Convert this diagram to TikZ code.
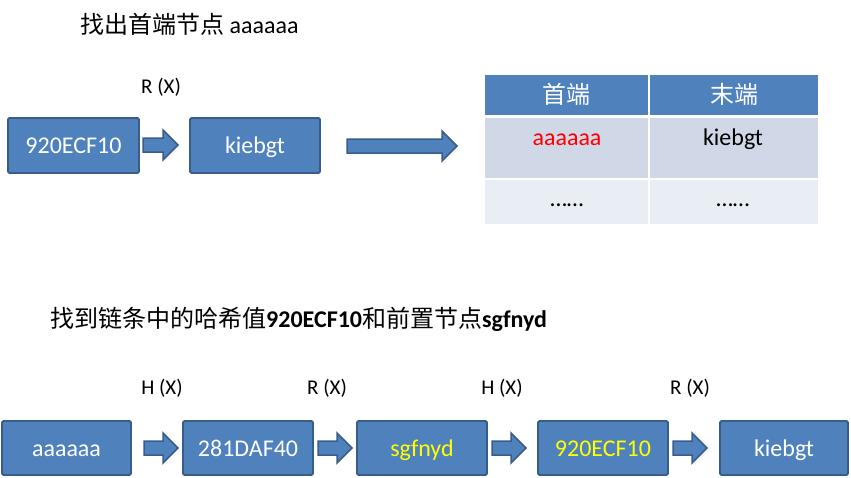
\documentclass[tikz,border=0pt]{standalone}
\usepackage{fontspec}
\setmainfont{Carlito}
\newfontfamily\cjk{Noto Sans CJK SC}
\definecolor{boxfill}{HTML}{4F81BD}
\definecolor{boxline}{HTML}{385D8A}
\definecolor{rowa}{HTML}{D0D8E8}
\definecolor{rowb}{HTML}{E9EDF4}
\definecolor{ylw}{HTML}{FFFF00}
\tikzset{
  blk/.style={draw=boxline, line width=1.8pt, fill=boxfill, rounded corners=1.5pt},
  boxtxt/.style={font=\fontsize{24}{28}\selectfont, text=white, anchor=base, inner sep=0pt},
  lbl/.style={font=\fontsize{21}{25}\selectfont, text=black, anchor=base, inner sep=0pt},
  ttl/.style={font=\fontsize{24}{28}\selectfont, anchor=base west, inner sep=0pt},
  arr/.style={draw=boxline, line width=1.5pt, fill=boxfill, line join=miter},
  celltxt/.style={font=\fontsize{24}{28}\selectfont, anchor=base, inner sep=0pt},
}
\newcommand{\barrow}[3]{%
  \draw[arr] (#1,#3-7) -- (#2-15,#3-7) -- (#2-15,#3-15) -- (#2,#3) -- (#2-15,#3+15) -- (#2-15,#3+7) -- (#1,#3+7) -- cycle;}
\begin{document}
\begin{tikzpicture}[x=1pt,y=-1pt]
\useasboundingbox (0,0) rectangle (851,477);
% ---------- top ----------
\node[ttl] (t1) at (80,33) {{\cjk 找出首端节点} aaaaaa};
\draw[blk] (8,118) rectangle (139,173);
\node[boxtxt] (a1) at (73.5,153) {920ECF10};
\draw[blk] (190,118) rectangle (320,173);
\node[boxtxt] (a2) at (255,153) {kiebgt};
\barrow{143}{178}{145}
\node[lbl] (r1) at (161,93) {R (X)};
\barrow{347}{457}{146}
% table
\fill[boxfill] (485,75) rectangle (818,115);
\fill[rowa] (485,118) rectangle (818,178);
\fill[rowb] (485,179.5) rectangle (818,224);
\draw[white, line width=2pt] (649,75) -- (649,224);
\node[celltxt, text=white] (h1) at (566.5,103) {\cjk 首端};
\node[celltxt, text=white] (h2) at (734,103) {\cjk 末端};
\node[celltxt, text=red] (c1) at (567,145) {aaaaaa};
\node[celltxt, text=black] (c2) at (733,145) {kiebgt};
\node[celltxt, text=black] (d1) at (567,206) {……};
\node[celltxt, text=black] (d2) at (733,206) {……};
% ---------- bottom ----------
\node[ttl] (t2) at (50,327) {{\cjk 找到链条中的哈希值}\textbf{920ECF10}{\cjk 和前置节点}\textbf{sgfnyd}};
\draw[blk] (2,421) rectangle (131,475);
\node[boxtxt] (b1) at (66.5,456) {aaaaaa};
\draw[blk] (183,421) rectangle (313,475);
\node[boxtxt] (b2) at (248,456) {281DAF40};
\draw[blk] (357,421) rectangle (487,475);
\node[boxtxt, text=ylw] (b3) at (422,456) {sgfnyd};
\draw[blk] (538,421) rectangle (668,475);
\node[boxtxt, text=ylw] (b4) at (603,456) {920ECF10};
\draw[blk] (720,421) rectangle (848,475);
\node[boxtxt] (b5) at (784,456) {kiebgt};
\barrow{144}{178}{448}
\barrow{318}{352}{448}
\barrow{492}{526}{448}
\barrow{673}{707}{448}
\node[lbl] (l1) at (162,394) {H (X)};
\node[lbl] (l2) at (327,394) {R (X)};
\node[lbl] (l3) at (502,394) {H (X)};
\node[lbl] (l4) at (690,394) {R (X)};
\end{tikzpicture}
\end{document}
